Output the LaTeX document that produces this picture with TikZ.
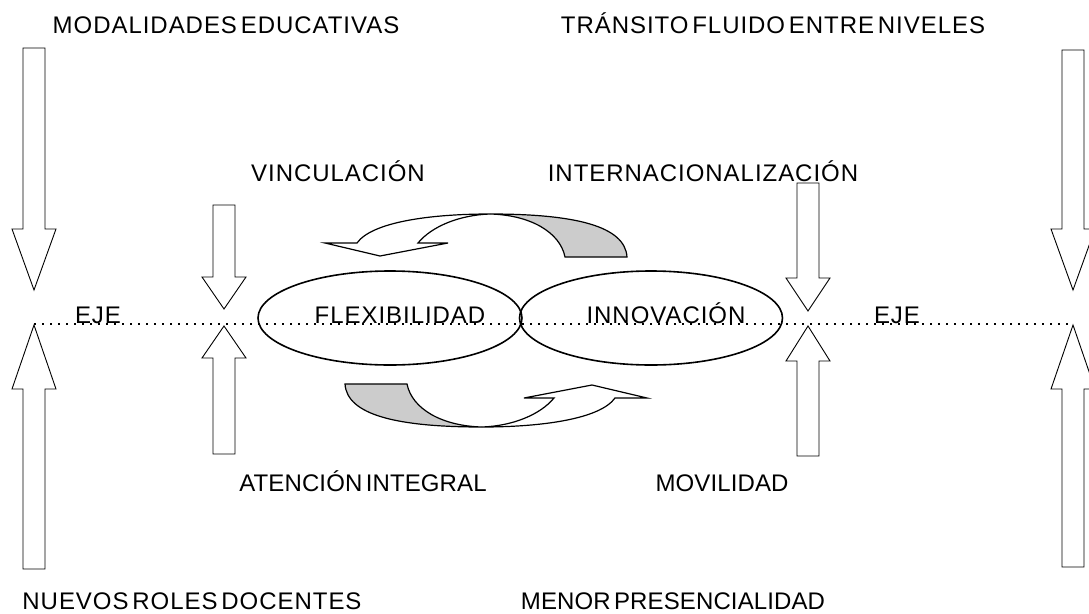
\documentclass[tikz,border=0pt]{standalone}
\usepackage{fontspec}
\setmainfont{Liberation Sans}[LetterSpace=4,WordSpace=0.5]
\usetikzlibrary{shapes.geometric}
\tikzset{
  txt/.style={font=\fontsize{24}{28}\selectfont, inner sep=0, anchor=base},
  tight/.style={font=\fontsize{24}{28}\selectfont\addfontfeature{LetterSpace=0.5}},
  block/.style={draw=black, line width=0.9pt, fill=white, line join=miter},
  oval/.style={ellipse, draw, line width=1.6pt, minimum width=264, minimum height=94, inner sep=0},
  axis/.style={line width=1.8pt, dash pattern=on 1.8pt off 6.2pt},
  turn/.style={draw, line width=1.2pt, fill=white},
  turn back/.style={turn, fill=black!20}
}

\begin{document}
\begin{tikzpicture}[x=1pt,y=-1pt]
  \useasboundingbox (0,0) rectangle (1089,613);

  % --- block arrows: centre x / tail / head base / tip ---
  \foreach \cx/\ya/\yb/\yc in {34/48/229/290, 34/569/389/325, 1073/50/229/290, 1073/567/389/325,
                               224/205/277/309, 224/454/358/326, 808/183/278/311, 808/456/361/326}
    \draw[block] ({\cx-11},\ya) -- ({\cx+11},\ya) -- ({\cx+11},\yb) -- ({\cx+22},\yb)
      -- (\cx,\yc) -- ({\cx-22},\yb) -- ({\cx-11},\yb) -- cycle;

  % --- the two ovals ---
  \node[oval] (flex) at (390,318) {};
  \node[oval, minimum width=263] (innov) at (651,318) {};

  % --- curved arrows (lower one is the upper one turned round) ---
  \foreach \r in {0,180} {
    \begin{scope}[rotate around={\r:(486,320.5)}]
      \draw[turn back] (565,257) -- (627,257) .. controls (625,226) and (575,214) .. (490,214)
        .. controls (530,215) and (560,232) .. (565,257) -- cycle;
      \draw[turn] (490,214) .. controls (430,214) and (372,222) .. (357,243) -- (325,243)
        -- (380,256) -- (448,243) -- (418,243) .. controls (432,226) and (460,215) .. (490,214) -- cycle;
    \end{scope}
  }

  % --- labels ---
  \node[txt] (modalidades) at (226,33) {MODALIDADES EDUCATIVAS};
  \node[txt] (transito) at (773,33) {TRÁNSITO FLUIDO ENTRE NIVELES};
  \node[txt] (vinculacion) at (338,181) {VINCULACIÓN};
  \node[txt] (internac) at (703,181) {INTERNACIONALIZACIÓN};
  \node[txt] (eje-1) at (98,323) {EJE};
  \node[txt] (eje-2) at (897,323) {EJE};
  \node[txt] (flex-txt) at (400,323) {FLEXIBILIDAD};
  \node[txt] (innov-txt) at (666,323) {INNOVACIÓN};
  \node[txt, tight] (atencion) at (363,491) {ATENCIÓN INTEGRAL};
  \node[txt, tight] (movilidad) at (722,491) {MOVILIDAD};
  \node[txt] (nuevos) at (192,609) {NUEVOS ROLES DOCENTES};
  \node[txt, tight] (menor) at (673,609) {MENOR PRESENCIALIDAD};

  % --- dotted axis ---
  \coordinate (eje-l) at (34,324);
  \coordinate (eje-r) at (1073,324);
  \draw[axis] (eje-l) -- (eje-r);
\end{tikzpicture}
\end{document}
